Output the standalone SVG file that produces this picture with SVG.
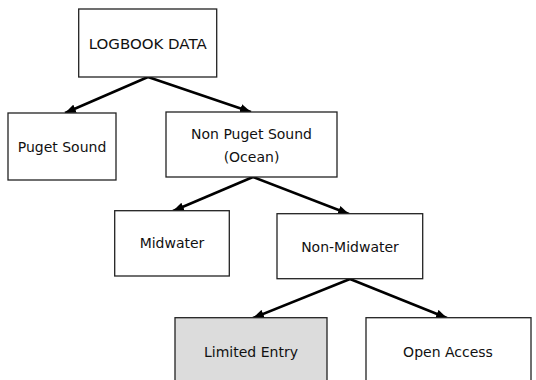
<svg xmlns="http://www.w3.org/2000/svg" width="536" height="380" viewBox="0 0 536 380">
<defs>
<style>
.box{fill:#fff;stroke:#222;stroke-width:1.3}
.shade{fill:#dcdcdc}
.lbl{font-family:"DejaVu Sans",Verdana,sans-serif;font-size:14px;fill:#111;text-anchor:middle}
.conn{stroke:#000;stroke-width:2.5;fill:none;marker-end:url(#ah)}
</style>
<marker id="ah" viewBox="0 0 10 8" refX="10" refY="4" markerWidth="4.4" markerHeight="3.5" markerUnits="strokeWidth" orient="auto">
<path d="M0,0 L10,4 L0,8 z" fill="#000"/>
</marker>
</defs>
<rect width="536" height="380" fill="#fff"/>
<g id="connectors">
<line class="conn" x1="148" y1="77" x2="65" y2="113"/>
<line class="conn" x1="148" y1="77" x2="251" y2="112"/>
<line class="conn" x1="253" y1="177" x2="173" y2="211"/>
<line class="conn" x1="253" y1="177" x2="349" y2="214"/>
<line class="conn" x1="350" y1="279" x2="253" y2="318"/>
<line class="conn" x1="350" y1="279" x2="447" y2="318"/>
</g>
<g id="logbook">
<rect class="box" x="78.7" y="9" width="138" height="68"/>
<text class="lbl" x="147.7" y="49" textLength="118" lengthAdjust="spacingAndGlyphs">LOGBOOK DATA</text>
</g>
<g id="puget">
<rect class="box" x="8" y="113" width="108" height="67"/>
<text class="lbl" x="62" y="152">Puget Sound</text>
</g>
<g id="nonpuget">
<rect class="box" x="166" y="112" width="171" height="65"/>
<text class="lbl" x="251.5" y="138.5">Non Puget Sound</text>
<text class="lbl" x="251.5" y="161.5">(Ocean)</text>
</g>
<g id="midwater">
<rect class="box" x="114.7" y="210.7" width="114.6" height="65.3"/>
<text class="lbl" x="172" y="248">Midwater</text>
</g>
<g id="nonmidwater">
<rect class="box" x="277" y="213.7" width="145.7" height="65"/>
<text class="lbl" x="350" y="251.5">Non-Midwater</text>
</g>
<g id="limited">
<rect class="box shade" x="175" y="317.7" width="152" height="70"/>
<text class="lbl" x="251" y="357">Limited Entry</text>
</g>
<g id="open">
<rect class="box" x="366" y="317.7" width="165" height="70"/>
<text class="lbl" x="448" y="357">Open Access</text>
</g>
</svg>
